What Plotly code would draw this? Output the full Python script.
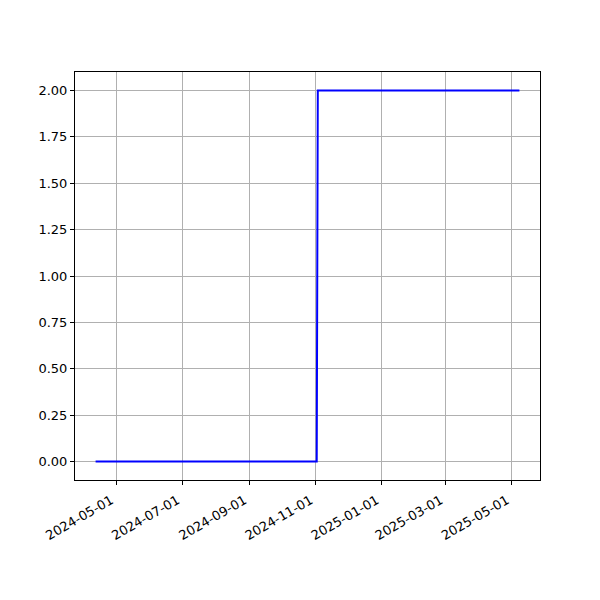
import plotly.graph_objects as go

dates = ["2024-04-12", "2024-11-02", "2024-11-03", "2025-05-08"]
values = [0, 0, 2, 2]
tick_vals = ["2024-05-01", "2024-07-01", "2024-09-01", "2024-11-01",
             "2025-01-01", "2025-03-01", "2025-05-01"]
y_ticks = [0.0, 0.25, 0.5, 0.75, 1.0, 1.25, 1.5, 1.75, 2.0]

fig = go.Figure()
fig.add_trace(go.Scatter(x=dates, y=values, mode="lines",
                         line=dict(color="blue", width=2), showlegend=False))

axis_common = dict(showline=True, linecolor="black", linewidth=1, mirror=True,
                   showgrid=True, gridcolor="#b0b0b0", gridwidth=1,
                   ticks="outside", ticklen=4, tickcolor="black", zeroline=False,
                   tickfont=dict(family="DejaVu Sans", size=13, color="black"))

fig.update_xaxes(type="date", range=["2024-03-24", "2025-05-27"],
                 tickvals=tick_vals, ticktext=tick_vals, tickangle=-30,
                 ticklabelshift=-5, ticklabelstandoff=3,
                 **axis_common)
fig.update_yaxes(range=[-0.1, 2.1], tickvals=y_ticks,
                 ticktext=[f"{v:.2f}" for v in y_ticks], **axis_common)

fig.update_layout(width=600, height=600, plot_bgcolor="white", paper_bgcolor="white",
                  margin=dict(l=67, r=68, t=64, b=128, autoexpand=False))
fig.write_html("out.html")
